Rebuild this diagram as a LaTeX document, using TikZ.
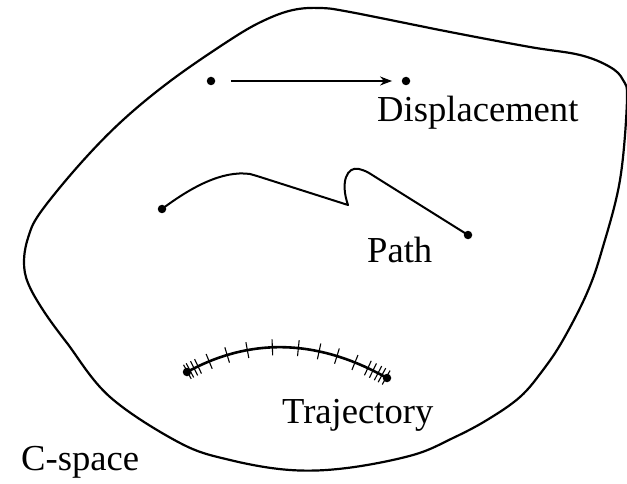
\documentclass[tikz,border=0pt]{standalone}
\usepackage{fontspec}
\setmainfont{Liberation Serif}
\usetikzlibrary{arrows.meta,decorations.markings}
\tikzset{
  dot/.style={circle,fill=black,inner sep=0pt,minimum size=8.5pt},
  lbl/.style={anchor=base west,inner sep=0pt,font=\fontsize{36.6}{40}\selectfont},
  blobline/.style={line width=2.2pt,line join=round},
  pathline/.style={line width=2pt,line join=round},
  trajline/.style={line width=2.6pt},
  tickline/.style={line width=1.1pt},
  arrowline/.style={line width=1.1pt,-{Stealth[length=12pt,width=9pt]}},
  /pgf/decoration/tk/.style={mark=at position #1 with {\draw[tickline] (0,-8) -- (0,8);}},
  tickmarks/.style={postaction={decorate,decoration={markings,
    tk=0.002,tk=0.016,tk=0.038,tk=0.059,tk=0.117,tk=0.208,tk=0.307,tk=0.427,
    tk=0.551,tk=0.651,tk=0.739,tk=0.830,tk=0.897,tk=0.924,tk=0.951,tk=0.972,tk=0.995}}}
}
\begin{document}
\begin{tikzpicture}[x=1pt,y=-1pt]
\useasboundingbox (0,0) rectangle (627,484);
% C-space boundary
\draw[blobline] plot[smooth cycle,tension=0.6] coordinates {
 (293,10) (320,8) (350,12) (450,32) (530,47) (580,55) (610,67) (623,80) (627,100)
 (620,180) (602,250) (587,293) (563,340) (543,370) (520,397) (487,420) (453,438)
 (413,455) (347,468) (290,470) (230,460) (180,443) (110,397) (67,343) (43,310)
 (28,283) (24,262) (28,238) (40,213) (80,164) (123,120) (173,79) (233,38) (265,20)};
% Displacement
\node[dot] (d1) at (211,81) {};
\node[dot] (d2) at (406,81) {};
\draw[arrowline,shorten <=15.5pt,shorten >=9.5pt] (d1) -- (d2);
\node[lbl] (dl) at (377,122) {Displacement};
% Path
\node[dot] (p1) at (162,209) {};
\node[dot] (p2) at (468,235) {};
\draw[pathline] (p1.center) .. controls (190,188) and (222,170) .. (250,174)
  -- (257,176) -- (348,205) .. controls (340,182) and (347,166) .. (359,169)
  .. controls (366,171) .. (377,178) -- (p2.center);
\node[lbl] (pl) at (367,262) {Path};
% Trajectory
\node[dot] (t1) at (187,372) {};
\node[dot] (t2) at (387,378) {};
\draw[trajline,tickmarks] (t1.center) .. controls (251,337) and (318,339) .. (t2.center);
\node[lbl] (tl) at (282,423) {Trajectory};
% C-space label
\node[lbl] (cl) at (21,470) {C-space};
\end{tikzpicture}
\end{document}
